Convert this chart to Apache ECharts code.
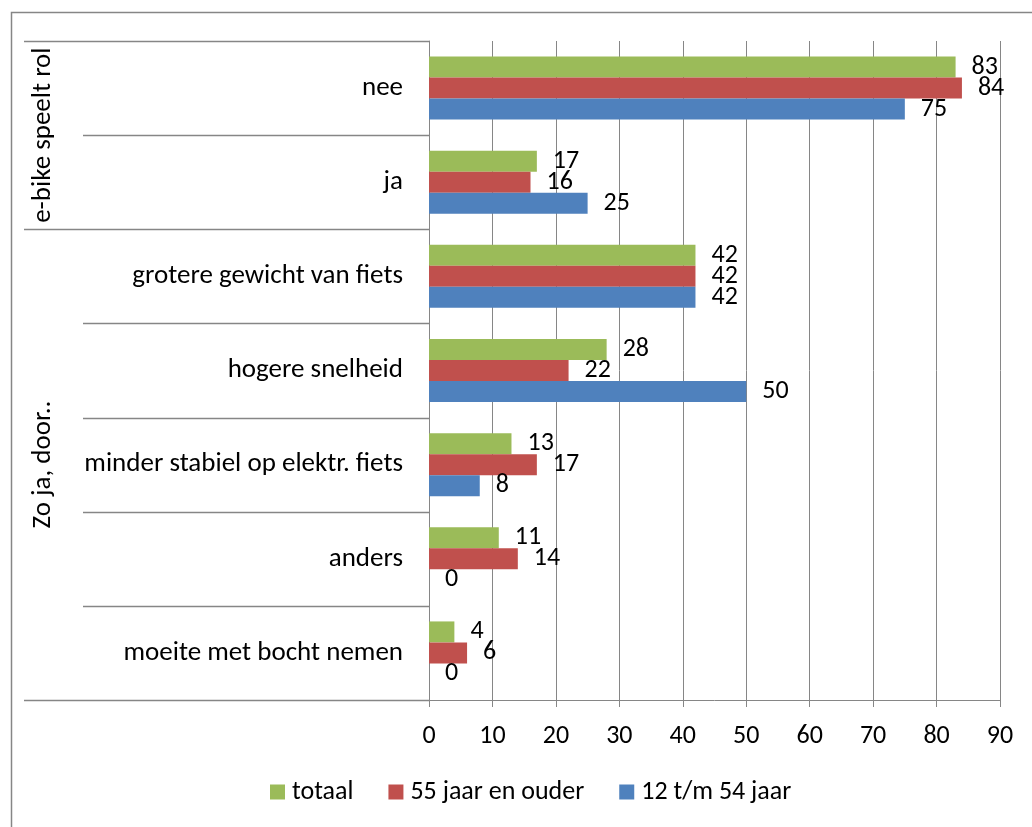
<!DOCTYPE html>
<html>
<head>
<meta charset="utf-8">
<script src="https://cdn.jsdelivr.net/npm/echarts@6/dist/echarts.min.js"></script>
<style>
  html, body { margin: 0; padding: 0; background: #ffffff; }
  #chart { width: 1032px; height: 827px; }
</style>
</head>
<body>
<div id="chart"></div>
<script>
// Answer categories, top to bottom
const categories = [
  'nee',
  'ja',
  'grotere gewicht van fiets',
  'hogere snelheid',
  'minder stabiel op elektr. fiets',
  'anders',
  'moeite met bocht nemen'
];

// Outer category groups (index ranges into categories)
const groupNames = ['e-bike speelt rol', 'Zo ja, door..'];
const groupStart = [0, 2];
const groupEnd = [1, 6];

// Percentages per age group
const seriesNames = ['totaal', '55 jaar en ouder', '12 t/m 54 jaar'];
const totaal = [83, 17, 42, 28, 13, 11, 4];
const ouder55 = [84, 16, 42, 22, 17, 14, 6];
const jong12tm54 = [75, 25, 42, 50, 8, 0, 0];

// Value axis range
const xMin = 0;
const xMax = 90;
const xStep = 10;

const FONT = 'Carlito, Lato, "Open Sans", sans-serif';
const FS = 26;       // numbers and legend
const FS_CAT = 27;   // category and group names
const GRID_COLOR = '#868686';
const colors = ['#9BBB59', '#C0504D', '#4F81BD'];

const chart = echarts.init(document.getElementById('chart'), null, { renderer: 'canvas' });

function barSeries(name, values, color) {
  return {
    name: name,
    type: 'bar',
    data: values,
    barWidth: 21,
    barGap: '0%',
    itemStyle: { color: color },
    label: {
      show: true,
      position: 'right',
      distance: 16,
      color: '#000',
      fontFamily: FONT,
      fontSize: FS
    },
    emphasis: { disabled: true },
    animation: false
  };
}

chart.setOption({
  animation: false,
  textStyle: { fontFamily: FONT },
  grid: {
    left: 429,
    top: 41,
    right: 32,
    bottom: 127,
    containLabel: false,
    outerBoundsMode: 'none'
  },
  xAxis: {
    type: 'value',
    min: xMin,
    max: xMax,
    interval: xStep,
    axisLine: { show: true, lineStyle: { color: GRID_COLOR, width: 1 } },
    axisTick: { show: true, length: 7, lineStyle: { color: GRID_COLOR } },
    axisLabel: { color: '#000', fontFamily: FONT, fontSize: FS, margin: 23 },
    splitLine: { show: true, lineStyle: { color: GRID_COLOR, width: 1 } }
  },
  yAxis: {
    type: 'category',
    inverse: true,
    data: categories,
    axisLine: { show: true, lineStyle: { color: GRID_COLOR, width: 1 } },
    axisTick: { show: false },
    axisLabel: { color: '#000', fontFamily: FONT, fontSize: FS_CAT, margin: 26, interval: 0 },
    splitLine: { show: false }
  },
  legend: {
    data: seriesNames,
    left: 270,
    bottom: 22,
    padding: 0,
    itemWidth: 15,
    itemHeight: 15,
    itemGap: 35,
    icon: 'rect',
    selectedMode: false,
    textStyle: { color: '#000', fontFamily: FONT, fontSize: FS, padding: [0, 0, 0, 2] }
  },
  series: [
    barSeries(seriesNames[0], totaal, colors[0]),
    barSeries(seriesNames[1], ouder55, colors[1]),
    barSeries(seriesNames[2], jong12tm54, colors[2])
  ]
});

// Category separators and group labels, positioned from the category axis
function edgeY(i) {
  const c0 = chart.convertToPixel({ yAxisIndex: 0 }, categories[0]);
  const c1 = chart.convertToPixel({ yAxisIndex: 0 }, categories[1]);
  const band = Math.abs(c1 - c0);
  if (i < categories.length) {
    return chart.convertToPixel({ yAxisIndex: 0 }, categories[i]) - band / 2;
  }
  return chart.convertToPixel({ yAxisIndex: 0 }, categories[categories.length - 1]) + band / 2;
}

const axisX = chart.convertToPixel({ xAxisIndex: 0 }, xMin);
const GROUP_LEFT = 24;
const INNER_LEFT = 83;
const graphics = [];

// outer chart border
graphics.push({
  type: 'rect',
  silent: true,
  shape: { x: 11.5, y: 12.5, width: 1200, height: 1000 },
  style: { fill: 'none', stroke: GRID_COLOR, lineWidth: 1.5 }
});

const groupEdges = new Set();
groupStart.forEach(function (s) { groupEdges.add(s); });
groupEnd.forEach(function (e) { groupEdges.add(e + 1); });

for (let i = 0; i <= categories.length; i++) {
  const y = Math.round(edgeY(i)) + 0.5;
  const x1 = groupEdges.has(i) ? GROUP_LEFT : INNER_LEFT;
  graphics.push({
    type: 'line',
    silent: true,
    shape: { x1: x1, y1: y, x2: axisX, y2: y },
    style: { stroke: GRID_COLOR, lineWidth: 1.5 }
  });
}

groupNames.forEach(function (name, g) {
  const yTop = edgeY(groupStart[g]);
  const yBot = edgeY(groupEnd[g] + 1);
  graphics.push({
    type: 'text',
    silent: true,
    x: 43,
    y: (yTop + yBot) / 2,
    rotation: Math.PI / 2,
    style: {
      text: name,
      fill: '#000',
      font: FS_CAT + 'px ' + FONT,
      textAlign: 'center',
      textVerticalAlign: 'middle'
    }
  });
});

chart.setOption({ graphic: graphics });
</script>
</body>
</html>
